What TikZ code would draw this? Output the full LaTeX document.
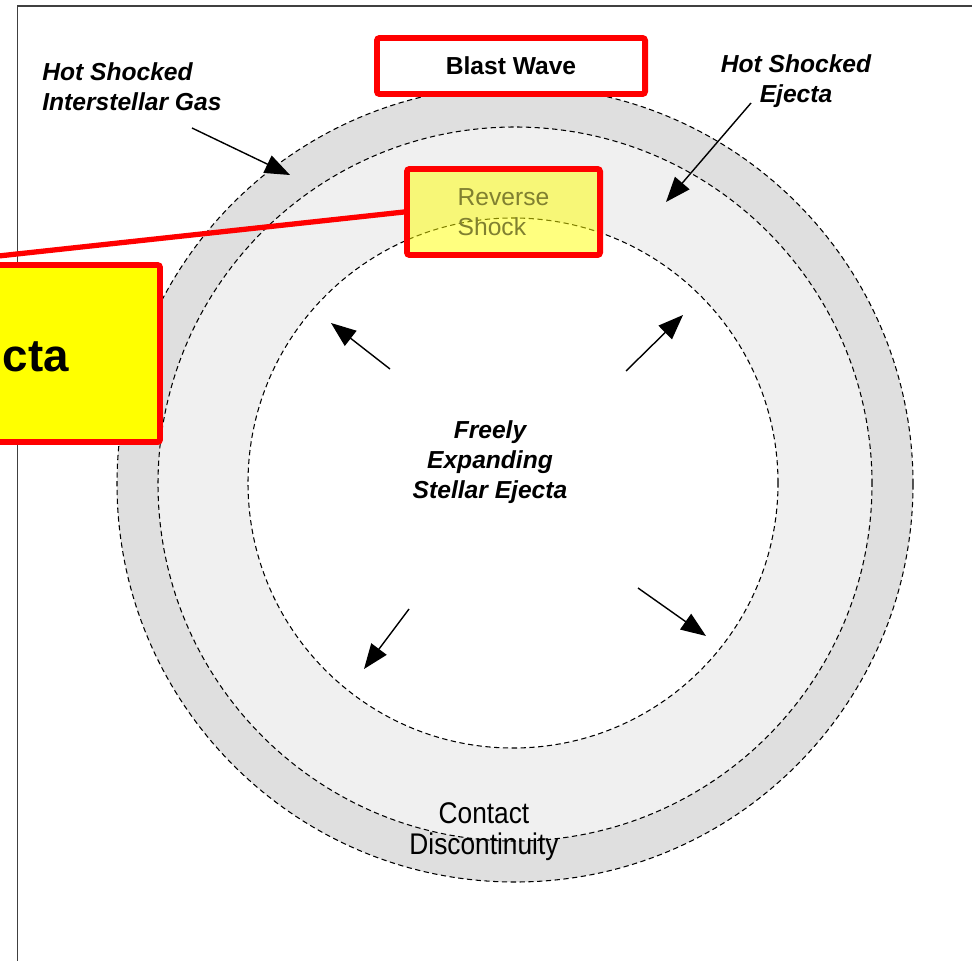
\documentclass[tikz,border=0pt]{standalone}
\usepackage{fontspec}
\setmainfont{Liberation Sans}
\newfontfamily\narrowfont[FakeStretch=0.88]{Liberation Sans}
\usepackage{tikz}
\usetikzlibrary{arrows.meta}
\definecolor{olivetext}{RGB}{128,128,48}
\definecolor{notey}{RGB}{255,255,0}
\tikzstyle{ring} = [densely dashed, line width=0.6pt, draw=black]
\tikzstyle{tag} = [
	font=\fontsize{14}{17}\selectfont\bfseries\itshape,
	inner sep=0pt,
	align=center
]
\tikzstyle{redbox} = [draw=red, line width=3.4pt, rounded corners=1.5pt]
\tikzstyle{arrow} = [line width=0.8pt, -{Triangle[length=0.5cm,width=0.38cm]}]

\begin{document}
\begin{tikzpicture}
    \useasboundingbox (0,0) rectangle (19.44,-19.2);
    \clip (0,0) rectangle (19.44,-19.2);
    \draw[line width=0.9pt, black!75] (0.35,-19.6) |- (19.8,-0.12);
    \coordinate (centre) at (10.30,-9.68);
    \draw[ring, fill=gray!25] (centre) circle (7.96);
    \draw[ring, fill=gray!12] (centre) circle (7.14);
    \draw[ring, fill=white] (10.26,-9.66) circle (5.30);
    \node[tag, align=left, anchor=west] (label ISM) at (0.84,-1.74) {Hot Shocked\\Interstellar Gas};
    \node[tag] (label HSE) at (15.92,-1.62) {Hot Shocked\\Ejecta};
    \node[tag] (label FEE) at (9.80,-9.24) {Freely\\Expanding\\Stellar Ejecta};
    \node[inner sep=0pt, align=center, font=\narrowfont\fontsize{17}{17.6}\selectfont] (label CD) at (9.68,-16.64) {Contact\\Discontinuity};
    \coordinate (ISM tail) at (3.84,-2.56);
    \coordinate (ISM tip) at (5.80,-3.50);
    \coordinate (HSE tail) at (15.02,-2.06);
    \coordinate (HSE tip) at (13.32,-4.04);
    \draw[arrow] (ISM tail) -- (ISM tip);
    \draw[arrow] (HSE tail) -- (HSE tip);
    \coordinate (A) at (7.80,-7.38);
    \coordinate (B) at (12.52,-7.42);
    \coordinate (C) at (8.18,-12.18);
    \coordinate (D) at (12.76,-11.76);
    \coordinate (A tip) at (6.62,-6.46);
    \coordinate (B tip) at (13.66,-6.30);
    \coordinate (C tip) at (7.28,-13.38);
    \coordinate (D tip) at (14.12,-12.72);
    \draw[arrow] (A) -- (A tip);
    \draw[arrow] (B) -- (B tip);
    \draw[arrow] (C) -- (C tip);
    \draw[arrow] (D) -- (D tip);
    \node[redbox, fill=white, minimum width=5.36cm, minimum height=1.12cm, font=\fontsize{14}{17}\selectfont\bfseries] (blast) at (10.22,-1.32) {Blast Wave};
    \node[redbox, fill=notey, minimum width=8.68cm, minimum height=3.54cm] (ejecta box) at (-1.14,-7.07) {};
    \node[font=\fontsize{26}{28}\selectfont\bfseries, anchor=base east, inner sep=0pt] (ejecta text) at (1.38,-7.42) {cta};
    \node[redbox, fill=notey, fill opacity=0.5, text opacity=1, text=olivetext, align=left, minimum width=3.86cm, minimum height=1.72cm, font=\fontsize{14}{17}\selectfont] (reverse) at (10.07,-4.24) {Reverse\\Shock};
    \draw[red, line width=3pt] (ejecta box.north) -- (reverse.west);
\end{tikzpicture}
\end{document}
